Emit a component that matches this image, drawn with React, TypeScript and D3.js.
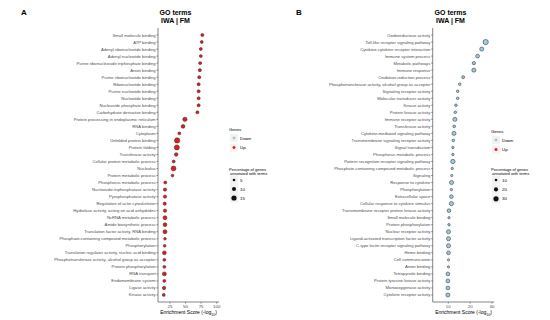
import React from "react"
import * as d3 from "d3"

// Panel A: IWA | FM, terms with Up genes
const termsA = [
  "Small molecule binding", "ATP binding", "Adenyl ribonucleotide binding", "Adenyl nucleotide binding",
  "Purine ribonucleoside triphosphate binding", "Anion binding", "Purine ribonucleotide binding",
  "Ribonucleotide binding", "Purine nucleotide binding", "Nucleotide binding", "Nucleoside phosphate binding",
  "Carbohydrate derivative binding", "Protein processing in endoplasmic reticulum", "RNA binding", "Cytoplasm",
  "Unfolded protein binding", "Protein folding", "Transferase activity", "Cellular protein metabolic process",
  "Nucleolus", "Protein metabolic process", "Phosphorus metabolic process", "Nucleoside-triphosphatase activity",
  "Pyrophosphatase activity", "Regulation of actin cytoskeleton", "Hydrolase activity, acting on acid anhydrides",
  "NcRNA metabolic process", "Amide biosynthetic process", "Translation factor activity, RNA binding",
  "Phosphate-containing compound metabolic process", "Phosphorylation",
  "Translation regulator activity, nucleic acid binding", "Phosphotransferase activity, alcohol group as acceptor",
  "Protein phosphorylation", "RNA transport", "Endomembrane system", "Ligase activity", "Kinase activity",
]
const scoreA = [77, 76, 74.5, 74.5, 73.5, 73, 72, 71, 71, 71, 71, 69, 49, 46, 40, 36.5, 36, 35, 31, 30.7, 29,
  17.5, 17, 17, 16.5, 17, 17, 17, 17, 17, 16.5, 16, 16, 16, 16, 16, 15.5, 15]
const pctA = [6.5, 6, 6, 6, 6, 6.5, 6.5, 6.5, 6.5, 6.5, 6.5, 6.5, 11, 9, 6, 15.5, 14.5, 8, 6, 13.5, 5.5,
  6, 7, 7, 7, 7, 9.5, 9, 10, 5, 5.5, 9, 6, 6, 9.5, 6, 7.5, 6]

// Panel B: terms with Down genes
const termsB = [
  "Oxidoreductase activity", "Toll-like receptor signaling pathway", "Cytokine-cytokine receptor interaction",
  "Immune system process", "Metabolic pathways", "Immune response", "Oxidation-reduction process",
  "Phosphotransferase activity, alcohol group as acceptor", "Signaling receptor activity",
  "Molecular transducer activity", "Kinase activity", "Protein kinase activity", "Immune receptor activity",
  "Transferase activity", "Cytokine-mediated signaling pathway", "Transmembrane signaling receptor activity",
  "Signal transduction", "Phosphorus metabolic process", "Pattern recognition receptor signaling pathway",
  "Phosphate-containing compound metabolic process", "Signaling", "Response to cytokine", "Phosphorylation",
  "Extracellular space", "Cellular response to cytokine stimulus",
  "Transmembrane receptor protein kinase activity", "Small molecule binding", "Protein phosphorylation",
  "Nuclear receptor activity", "Ligand-activated transcription factor activity",
  "C-type lectin receptor signaling pathway", "Heme binding", "Cell communication", "Anion binding",
  "Tetrapyrrole binding", "Protein tyrosine kinase activity", "Monooxygenase activity",
  "Cytokine receptor activity",
]
const scoreB: (number | null)[] = [null, 27.1, 25.3, 23.4, 21.7, 21.7, 16.8, 15.2, 14.3, 14.3, 13.5, 13.2, 13,
  12.7, 12.6, 12.3, 12.1, 12.1, 12.1, 11.8, 11.6, 11.5, 11.4, 11.4, 11.4, 10.3, 10.3, 10.3, 10.1, 10.1, 10.1,
  10.1, 10.1, 10.1, 9.8, 9.8, 9.8, 9.8]
const pctB = [0, 31, 20, 18, 14, 20, 12, 10, 10, 10, 10, 10, 20, 11, 20, 10, 9, 9, 22, 9, 8.5, 20, 9, 17, 21,
  17, 8.5, 9, 20, 20, 20, 18, 8, 8, 18, 18, 18, 20]

const ticksA = [25, 50, 75, 100]
const ticksB = [10, 20, 30]
const sizeBreaksA = [5, 10, 15]
const sizeBreaksB = [10, 20, 30]

const UP = "#e41a1c"
const DOWN = "#9ecae1"
const FONT = "'Liberation Sans', Arial, sans-serif"

type PanelProps = {
  letter: string
  letterX: number
  terms: string[]
  scores: (number | null)[]
  pcts: number[]
  fill: string
  axisX0: number
  axisX1: number
  xDomain: [number, number]
  ticks: number[]
  rDomain: [number, number]
  sizeBreaks: number[]
  legendX: number
  genesY: number
  sizeY: number
  sizeStep: number
}

function Panel(p: PanelProps) {
  const top = 28
  const bottom = 302
  const x = d3.scaleLinear().domain(p.xDomain).range([p.axisX0, p.axisX1])
  const y = d3.scalePoint<string>().domain(p.terms).range([top, bottom]).padding(1)
  const r = d3.scaleSqrt().domain(p.rDomain).range([0.9, 2.7])
  const cx = (p.axisX0 + p.axisX1) / 2
  const lx = p.legendX
  return (
    <g fontFamily={FONT}>
      <text x={p.letterX} y={15} fontSize={8} fontWeight="bold" fill="#000">{p.letter}</text>
      <text x={cx - 13} y={15} fontSize={7} fontWeight="bold" fill="#000" textAnchor="middle">GO terms</text>
      <text x={cx - 13} y={23} fontSize={7} fontWeight="bold" fill="#000" textAnchor="middle">IWA | FM</text>

      {/* y axis */}
      <line x1={p.axisX0} x2={p.axisX0} y1={top} y2={bottom} stroke="#333" strokeWidth={0.6} />
      {p.terms.map((t) => (
        <g key={t} transform={`translate(0,${y(t)})`}>
          <line x1={p.axisX0 - 1.6} x2={p.axisX0} stroke="#333" strokeWidth={0.5} />
          <text x={p.axisX0 - 2.4} dy="0.35em" fontSize={4.2} fill="#4d4d4d" textAnchor="end">{t}</text>
        </g>
      ))}

      {/* x axis */}
      <line x1={p.axisX0} x2={p.axisX1} y1={bottom} y2={bottom} stroke="#333" strokeWidth={0.6} />
      {p.ticks.map((t) => (
        <g key={t} transform={`translate(${x(t)},${bottom})`}>
          <line y2={1.6} stroke="#333" strokeWidth={0.5} />
          <text y={6.2} fontSize={4.4} fill="#4d4d4d" textAnchor="middle">{t}</text>
        </g>
      ))}
      <text x={cx} y={314} fontSize={5} textAnchor="middle">
        Enrichment Score (-log<tspan fontSize={3.5} dy={1.5}>10</tspan><tspan dy={-1.5}>)</tspan>
      </text>

      {/* points */}
      {p.terms.map((t, i) => {
        const s = p.scores[i]
        if (s === null) return null
        return (
          <circle key={t} cx={x(s)} cy={y(t)} r={r(p.pcts[i])} fill={p.fill} stroke="#333" strokeWidth={0.55} />
        )
      })}

      {/* legends */}
      <text x={lx - 5} y={p.genesY} fontSize={4.2}>Genes</text>
      {[{ k: "Down", c: DOWN }, { k: "Up", c: UP }].map((d, i) => {
        const ky = p.genesY + 7 + i * 9.5
        return (
          <g key={d.k}>
            <rect x={lx - 4} y={ky - 4} width={8} height={8} fill="#f2f2f2" />
            <circle cx={lx} cy={ky} r={1.3} fill={d.c} stroke={d.c} strokeWidth={0.4} />
            <text x={lx + 6} y={ky} dy="0.35em" fontSize={4.4}>{d.k}</text>
          </g>
        )
      })}
      <text x={lx - 5} y={p.sizeY} fontSize={4}>Percentage of genes</text>
      <text x={lx - 4} y={p.sizeY + 4.2} fontSize={4}>annotated with terms</text>
      {p.sizeBreaks.map((b, i) => {
        const ky = p.sizeY + 9 + i * p.sizeStep
        return (
          <g key={b}>
            <rect x={lx - 4} y={ky - 4.5} width={8} height={9} fill="#f2f2f2" />
            <circle cx={lx} cy={ky} r={r(b)} fill="#111" />
            <text x={lx + 6} y={ky} dy="0.35em" fontSize={4.4}>{b}</text>
          </g>
        )
      })}
    </g>
  )
}

export default function App() {
  return (
    <svg width={550} height={320} style={{ position: "absolute", left: 0, top: 0, background: "#fff" }}>
      <Panel letter="A" letterX={21} terms={termsA} scores={scoreA} pcts={pctA} fill={UP}
        axisX0={158} axisX1={219} xDomain={[5.8, 103.7]} ticks={ticksA} rDomain={[3, 16]}
        sizeBreaks={sizeBreaksA} legendX={234} genesY={131} sizeY={171} sizeStep={9} />
      <Panel letter="B" letterX={296} terms={termsB} scores={scoreB} pcts={pctB} fill={DOWN}
        axisX0={432.7} axisX1={494.3} xDomain={[2.86, 31.05]} ticks={ticksB} rDomain={[6, 32]}
        sizeBreaks={sizeBreaksB} legendX={496} genesY={133} sizeY={171} sizeStep={9.4} />
    </svg>
  )
}
